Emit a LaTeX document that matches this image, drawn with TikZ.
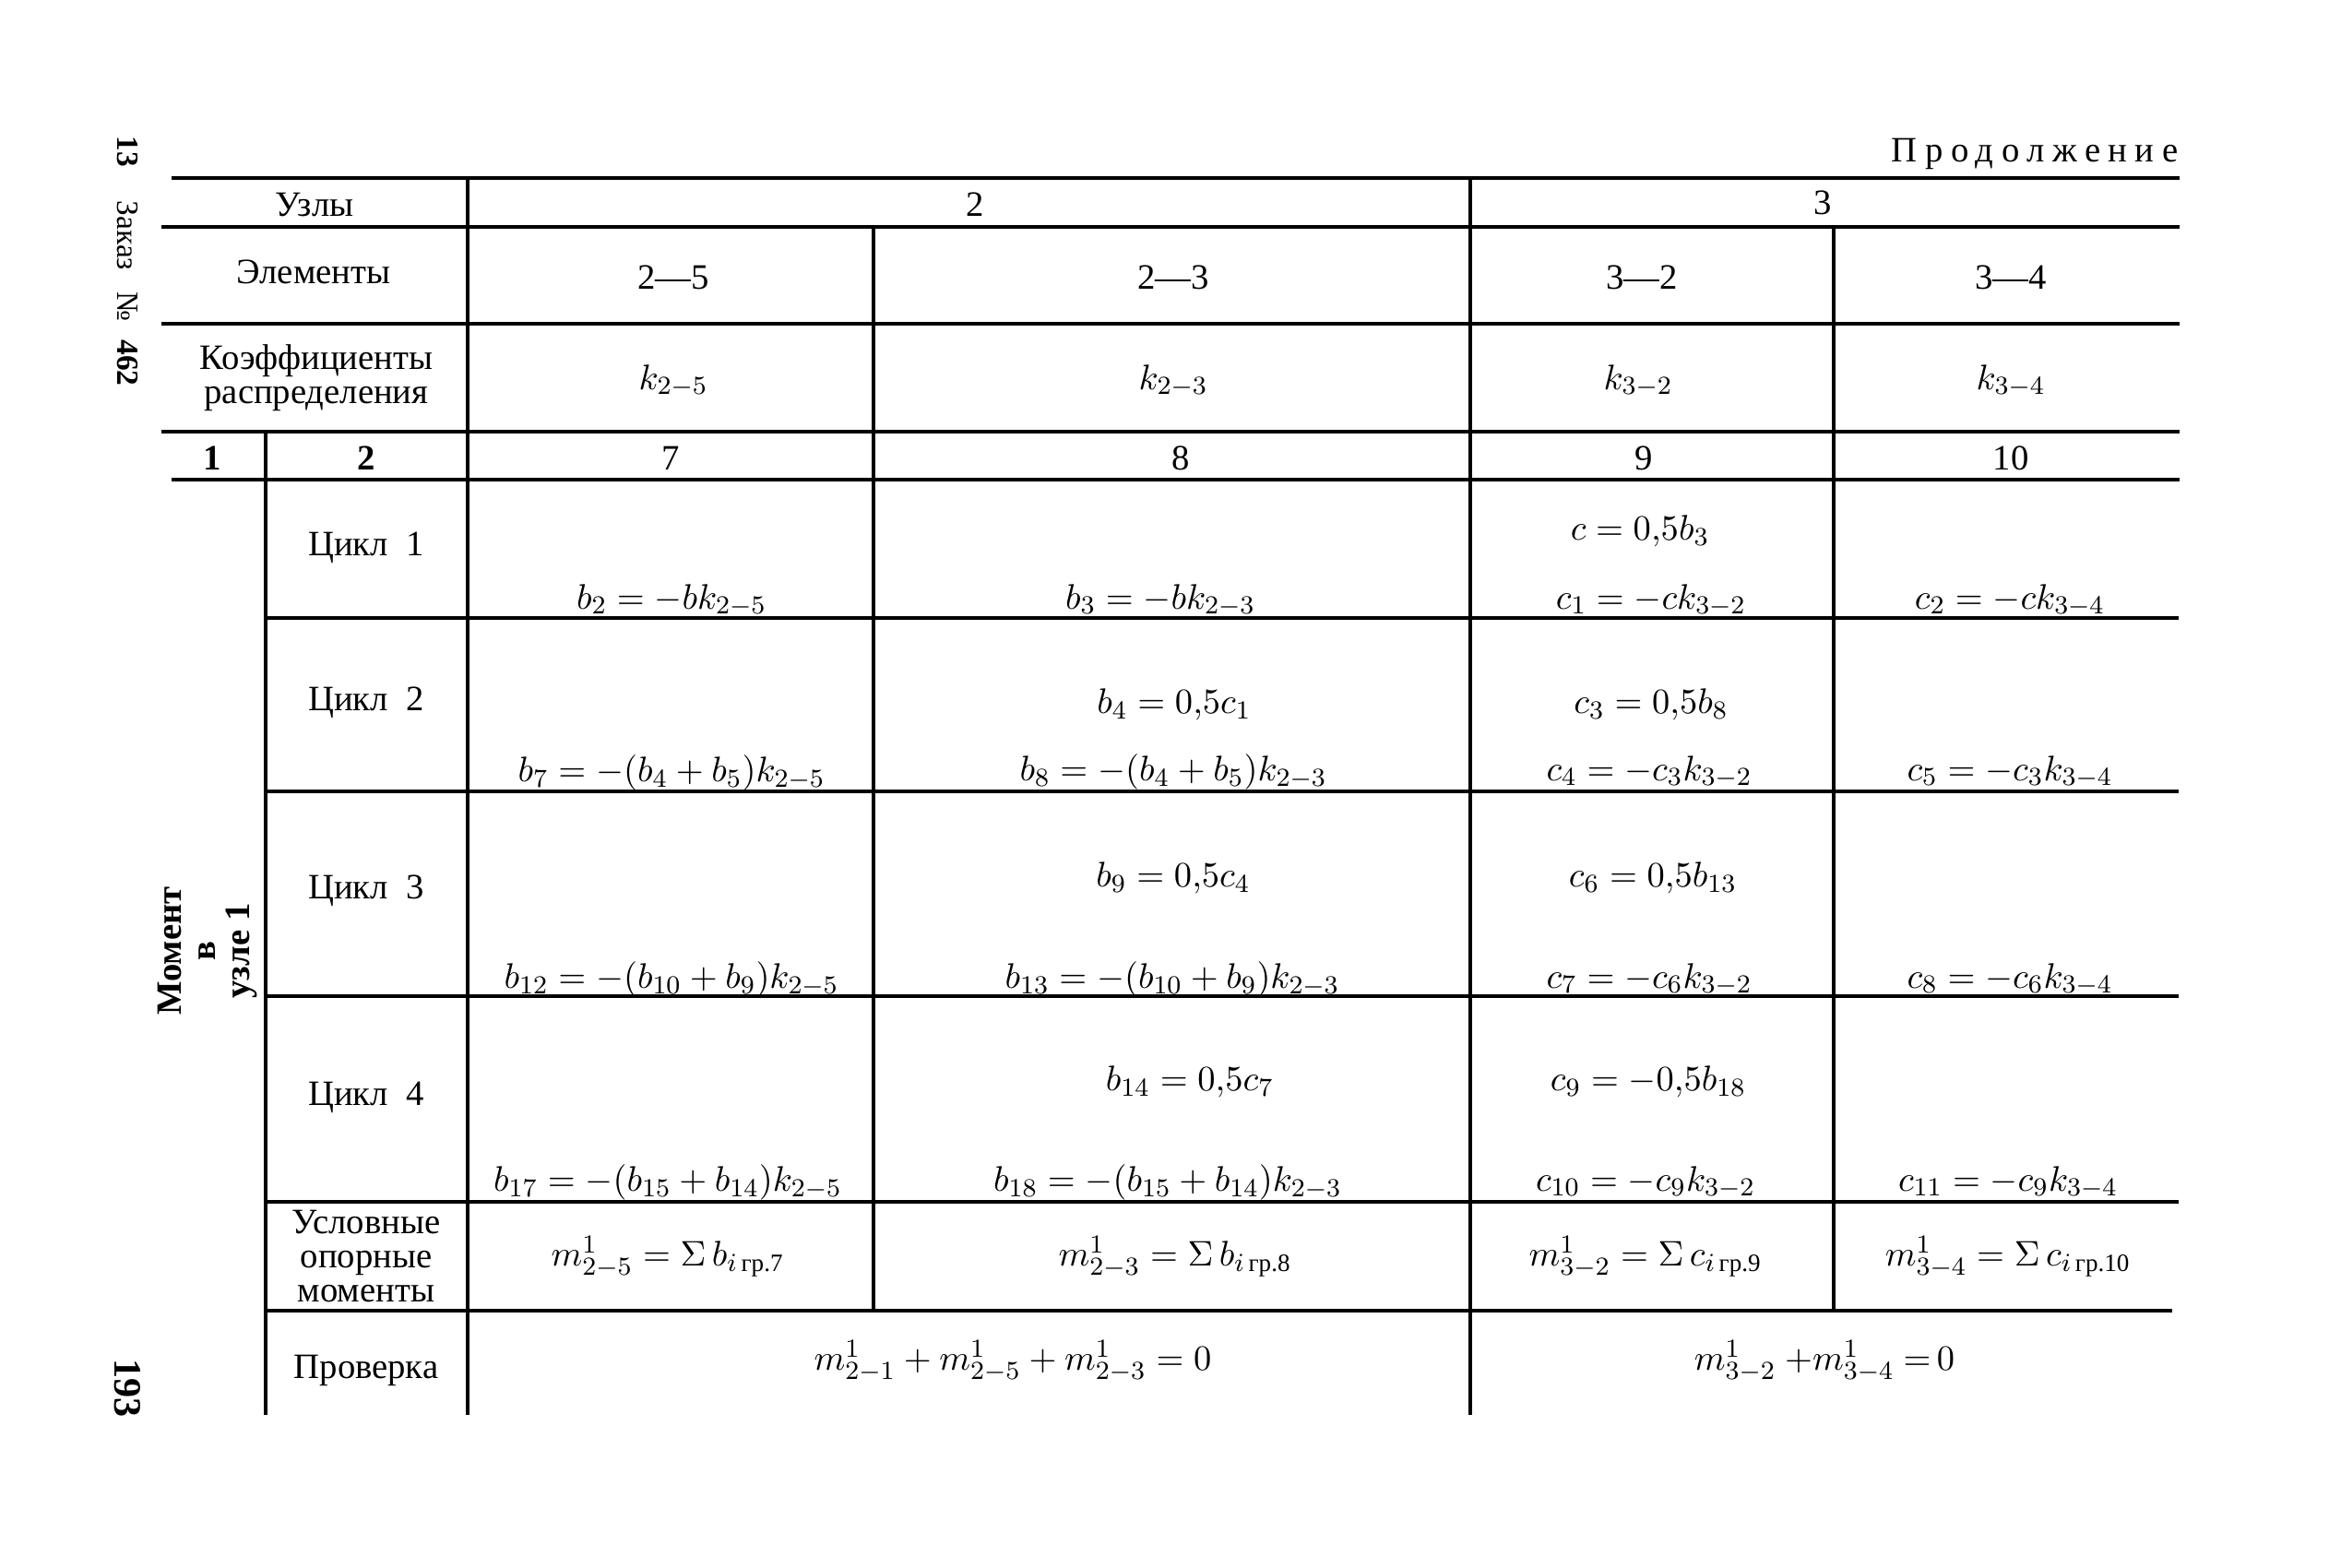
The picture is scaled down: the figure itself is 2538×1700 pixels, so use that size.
\documentclass[tikz,border=0pt]{standalone}
\usepackage{amsmath}
\usepackage{fontspec}
\setmainfont{Liberation Serif}
\newfontfamily\spacedfont[LetterSpace=22]{Liberation Serif}
\begin{document}
\begin{tikzpicture}[x=0.01cm,y=-0.01cm,
  every node/.style={inner sep=0pt, font=\fontsize{11}{10.5}\selectfont},
  hrule/.style={line width=1.05pt},
  vrule/.style={line width=0.9pt},
  lbl/.style={align=center},
  eq/.style={}]
\useasboundingbox (0,0) rectangle (2538,1700);
% horizontal rules
\draw[hrule] (186,193) -- (2363,193);
\draw[hrule] (175,246) -- (2363,246);
\draw[hrule] (175,351) -- (2363,351);
\draw[hrule] (175,468) -- (2363,468);
\draw[hrule] (186,520) -- (2363,520);
\draw[hrule] (288,670) -- (2362,670);
\draw[hrule] (288,858) -- (2362,858);
\draw[hrule] (288,1080) -- (2362,1080);
\draw[hrule] (288,1303) -- (2362,1303);
\draw[hrule] (288,1421) -- (2355,1421);
% vertical rules
\draw[vrule] (288,468) -- (288,1534);
\draw[vrule] (507,193) -- (507,1534);
\draw[vrule] (947,246) -- (947,1421);
\draw[vrule] (1594,193) -- (1594,1534);
\draw[vrule] (1988,246) -- (1988,1421);
% margin texts
\node[rotate=-90, font=\fontsize{9.5}{11}\selectfont] (zakaz) at (138,283) {\textbf{13}\hspace{1.1em}Заказ\hspace{0.7em}№\hspace{0.6em}\textbf{462}};
\node[rotate=-90, font=\bfseries\fontsize{12}{13}\selectfont] (pg) at (138,1505) {193};
\node[anchor=east] (prod) at (2362,167) {\spacedfont Продолжение};
% header
\node (uzly) at (341,222) {Узлы};
\node (u2) at (1057,222) {2};
\node (u3) at (1976,220) {3};
\node (elem) at (340,295) {Элементы};
\node (e25) at (730,301) {2—5};
\node (e23) at (1272,301) {2—3};
\node (e32) at (1780,301) {3—2};
\node (e34) at (2180,301) {3—4};
\node[lbl] (koef) at (343,410) {Коэффициенты\\распределения};
\node (k25) at (730,413) {$k_{2-5}$};
\node (k23) at (1272,413) {$k_{2-3}$};
\node (k32) at (1776,413) {$k_{3-2}$};
\node (k34) at (2180,413) {$k_{3-4}$};
\node (n1) at (230,497) {\textbf{1}};
\node (n2) at (397,497) {\textbf{2}};
\node (n7) at (727,497) {7};
\node (n8) at (1280,497) {8};
\node (n9) at (1782,497) {9};
\node (n10) at (2180,497) {10};
% row labels
\node[lbl, rotate=90, font=\bfseries\fontsize{11}{10.5}\selectfont] (moment) at (225,1031) {Момент\\в\\узле 1};
\node (cyc1) at (397,594) {Цикл\ \ 1};
\node (cyc2) at (397,762) {Цикл\ \ 2};
\node (cyc3) at (397,966) {Цикл\ \ 3};
\node (cyc4) at (397,1190) {Цикл\ \ 4};
\node[lbl] (usl) at (397,1362) {Условные\\опорные\\моменты};
\node (prov) at (397,1486) {Проверка};
% column 7
\node (b2) at (728,651) {$b_2=-bk_{2-5}$};
\node (b7) at (728,838) {$b_7=-(b_4+b_5)k_{2-5}$};
\node (b12) at (728,1062) {$b_{12}=-(b_{10}+b_9)k_{2-5}$};
\node (b17) at (724,1282) {$b_{17}=-(b_{15}+b_{14})k_{2-5}$};
\node (m25) at (724,1363) {$m^1_{2-5}=\Sigma\, b_{i\,\text{гр.7}}$};
% column 8
\node (b3) at (1258,651) {$b_3=-bk_{2-3}$};
\node (b4) at (1273,764) {$b_4=0{,}5c_1$};
\node (b8) at (1272,837) {$b_8=-(b_4+b_5)k_{2-3}$};
\node (b9) at (1272,952) {$b_9=0{,}5c_4$};
\node (b13) at (1271,1062) {$b_{13}=-(b_{10}+b_9)k_{2-3}$};
\node (b14) at (1290,1173) {$b_{14}=0{,}5c_7$};
\node (b18) at (1266,1282) {$b_{18}=-(b_{15}+b_{14})k_{2-3}$};
\node (m23) at (1274,1363) {$m^1_{2-3}=\Sigma\, b_{i\,\text{гр.8}}$};
% column 9
\node (c0) at (1778,576) {$c=0{,}5b_3$};
\node (c1) at (1790,651) {$c_1=-ck_{3-2}$};
\node (c3) at (1790,764) {$c_3=0{,}5b_8$};
\node (c4) at (1788,837) {$c_4=-c_3k_{3-2}$};
\node (c6) at (1792,952) {$c_6=0{,}5b_{13}$};
\node (c7) at (1788,1062) {$c_7=-c_6k_{3-2}$};
\node (c9) at (1787,1173) {$c_9=-0{,}5b_{18}$};
\node (c10) at (1784,1282) {$c_{10}=-c_9k_{3-2}$};
\node (m32) at (1784,1363) {$m^1_{3-2}=\Sigma\, c_{i\,\text{гр.9}}$};
% column 10
\node (c2) at (2179,651) {$c_2=-ck_{3-4}$};
\node (c5) at (2179,837) {$c_5=-c_3k_{3-4}$};
\node (c8) at (2179,1062) {$c_8=-c_6k_{3-4}$};
\node (c11) at (2177,1282) {$c_{11}=-c_9k_{3-4}$};
\node (m34) at (2177,1363) {$m^1_{3-4}=\Sigma\, c_{i\,\text{гр.10}}$};
% check row
\node (chk2) at (1098,1476) {$m^1_{2-1}+m^1_{2-5}+m^1_{2-3}=0$};
\node (chk3) at (1978,1476) {$m^1_{3-2}\ {+}m^1_{3-4}\ {=}\,0$};
\end{tikzpicture}
\end{document}
